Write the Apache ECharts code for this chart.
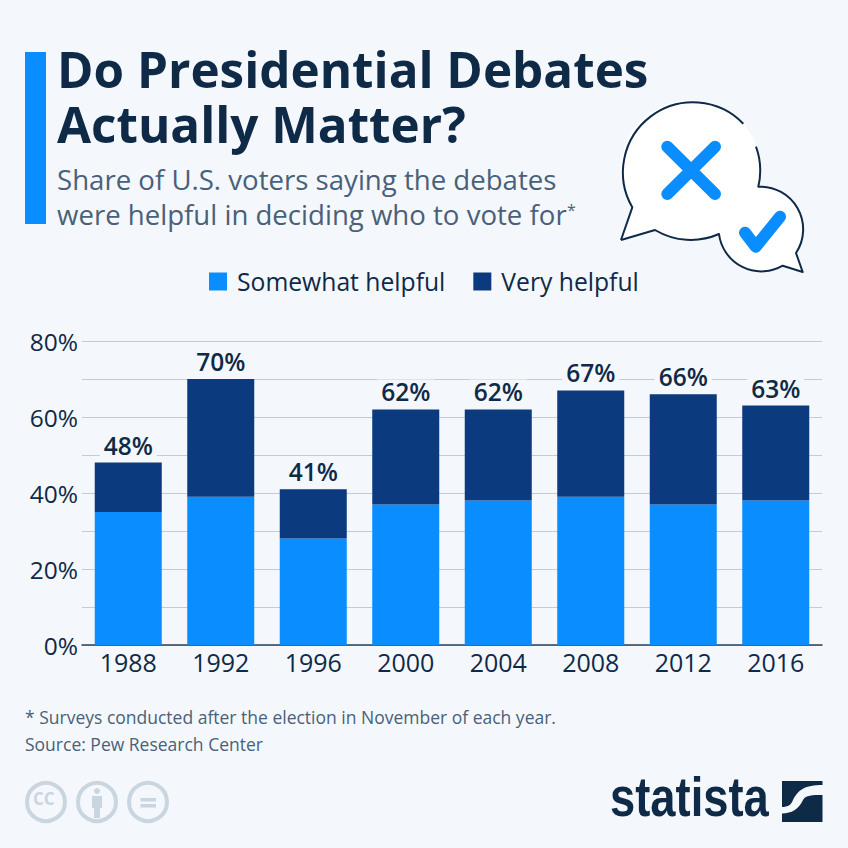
<!DOCTYPE html>
<html>
<head>
<meta charset="utf-8">
<style>
html, body { margin: 0; padding: 0; background: #f4f8fc; }
#chart { width: 848px; height: 848px; }
</style>
<script src="https://cdn.jsdelivr.net/npm/echarts@6/dist/echarts.min.js"></script>
</head>
<body>
<div id="chart"></div>
<script>
const years = ['1988', '1992', '1996', '2000', '2004', '2008', '2012', '2016']
const somewhat = [35, 39, 28, 37, 38, 39, 37, 38]
const very = [13, 31, 13, 25, 24, 28, 29, 25]
const totals = [48, 70, 41, 62, 62, 67, 66, 63]

const bg = '#f4f8fc'
const navy = '#0f2a47'
const blue = '#0a8dff'
const grey = '#c9d5df'
const slate = '#4a6079'
const font = '"Open Sans"'

function txt(x, y, text, size, color, weight) {
  return {type: 'text', left: x, top: y, z: 10, style: {text, fontFamily: font, fontSize: size, fill: color, fontWeight: weight || 'normal'}}
}
// the graphic component has no plain 'path' type, so each svg path gets its own shape
function svgPath(name, d, style) {
  echarts.graphic.registerShape(name, echarts.graphic.extendPath(d, {}))
  return {type: name, z: 5, style}
}
function stroke(points, width, color) {
  return {type: 'polyline', z: 6, shape: {points}, style: {stroke: color, lineWidth: width, lineCap: 'round', lineJoin: 'round', fill: 'none'}}
}
const outlineStyle = {stroke: navy, lineWidth: 2, fill: 'none', lineJoin: 'round'}

const myCharts = echarts.init(document.getElementById('chart'), null, {renderer: 'svg'})
myCharts.setOption({
  backgroundColor: bg,
  animation: false,
  legend: {
    top: 264, left: 204,
    itemWidth: 18, itemHeight: 18, itemGap: 28,
    icon: 'rect',
    textStyle: {fontFamily: font, fontSize: 24.7, color: navy, padding: [0, 0, 0, 5]},
    data: ['Somewhat helpful', 'Very helpful']
  },
  grid: {left: 82, right: 26, top: 341, bottom: 203},
  xAxis: {
    type: 'category',
    data: years,
    axisTick: {show: false},
    axisLine: {lineStyle: {color: '#2d4258', width: 1.5}},
    axisLabel: {fontFamily: font, fontSize: 25, color: navy, margin: 4}
  },
  yAxis: {
    type: 'value', min: 0, max: 80, interval: 10,
    axisLine: {show: false},
    axisTick: {show: false},
    splitLine: {lineStyle: {color: '#c3ccd6', width: 1}},
    axisLabel: {
      fontFamily: font, fontSize: 24.5, color: navy, margin: 4,
      formatter: v => v % 20 === 0 ? v + '%' : ''
    }
  },
  series: [
    {name: 'Somewhat helpful', type: 'bar', stack: 'a', barWidth: 67, data: somewhat, itemStyle: {color: blue}},
    {
      name: 'Very helpful', type: 'bar', stack: 'a', barWidth: 67, data: very,
      itemStyle: {color: '#0b3a7e'},
      label: {
        show: true, position: 'top', distance: 5,
        fontFamily: font, fontSize: 24.5, fontWeight: 600, color: navy,
        backgroundColor: bg, padding: [0, 4, 0, 4],
        formatter: p => totals[p.dataIndex] + '%'
      }
    }
  ],
  graphic: [
    {type: 'rect', shape: {x: 25, y: 52, width: 21, height: 172}, style: {fill: blue}},
    txt(57, 44, 'Do Presidential Debates', 49.4, navy, 'bold'),
    txt(57, 99, 'Actually Matter?', 49.4, navy, 'bold'),
    txt(57, 165, 'Share of U.S. voters saying the debates', 27.6, slate),
    txt(57, 200, 'were helpful in deciding who to vote for', 27.6, slate),
    txt(567, 202, '*', 16, slate),
    txt(25, 708, '* Surveys conducted after the election in November of each year.', 17.5, slate),
    txt(25, 735, 'Source: Pew Research Center', 17.5, slate),

    // speech bubbles
    {type: 'circle', z: 4, shape: {cx: 690.7, cy: 170, r: 70}, style: {fill: '#fff'}},
    {type: 'circle', z: 4, shape: {cx: 761, cy: 229.5, r: 42.7}, style: {fill: '#fff'}},
    {type: 'polygon', z: 4, shape: {points: [[621, 240], [632.3, 207.3], [655, 230]]}, style: {fill: '#fff'}},
    {type: 'polygon', z: 4, shape: {points: [[802.7, 272], [796, 253], [782.7, 265.7]]}, style: {fill: '#fff'}},
    svgPath('bubbleLeft', 'M621 240 L632.3 207.3 A70 70 0 0 1 743.3 123.7', outlineStyle),
    svgPath('bubbleRight', 'M756 146.7 A70 70 0 0 1 758.3 186.7 A42.7 42.7 0 0 1 796 253 L802.7 272 L782.7 265.7 A42.7 42.7 0 0 1 719 234 A70 70 0 0 1 655 230 L621 240', outlineStyle),
    stroke([[667.3, 146.7], [715, 194]], 12, blue),
    stroke([[715, 146.7], [667.3, 194]], 12, blue),
    stroke([[745, 232.7], [755.7, 246.7], [780, 216.7]], 12, blue),

    // cc icons
    {type: 'circle', shape: {cx: 46, cy: 802, r: 19}, style: {stroke: grey, lineWidth: 4, fill: 'none'}},
    {type: 'circle', shape: {cx: 97, cy: 802, r: 19}, style: {stroke: grey, lineWidth: 4, fill: 'none'}},
    {type: 'circle', shape: {cx: 148, cy: 802, r: 19}, style: {stroke: grey, lineWidth: 4, fill: 'none'}},
    {type: 'text', left: 33, top: 790, style: {text: 'CC', fontFamily: font, fontSize: 17, fontWeight: 'bold', fill: grey}},
    {type: 'circle', shape: {cx: 97, cy: 791, r: 3}, style: {fill: grey}},
    {type: 'rect', shape: {x: 92, y: 796, width: 10, height: 12}, style: {fill: grey}},
    {type: 'rect', shape: {x: 94, y: 806, width: 6, height: 12}, style: {fill: grey}},
    {type: 'rect', shape: {x: 140.5, y: 798, width: 15.5, height: 3.5}, style: {fill: grey}},
    {type: 'rect', shape: {x: 140.5, y: 804, width: 15.5, height: 3.5}, style: {fill: grey}},

    // statista logo
    {type: 'text', x: 610, y: 769, scaleX: 0.81, style: {text: 'statista', fontFamily: '"Liberation Sans"', fontSize: 56, fontWeight: 'bold', fill: navy}},
    svgPath('logoTop', 'M782 781 H822.5 V785 C805 785 798 790 793 800 C791 805 788 807 782 807 Z', {fill: navy}),
    svgPath('logoBottom', 'M782 813.5 C792 813 798 810 803 800 C806 795 812 795 822.5 795 V822 H782 Z', {fill: navy})
  ]
})
</script>
</body>
</html>
